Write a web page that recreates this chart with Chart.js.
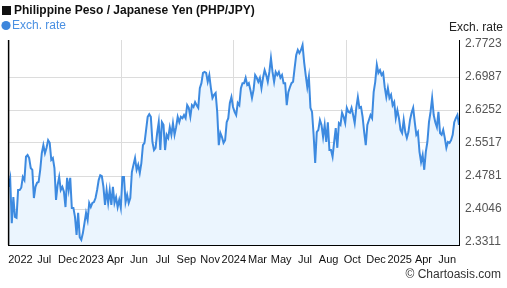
<!DOCTYPE html>
<html>
<head>
<meta charset="utf-8">
<title>PHP/JPY</title>
<script src="https://cdn.jsdelivr.net/npm/chart.js@4/dist/chart.umd.min.js"></script>
<style>
    html, body { margin: 0; padding: 0; background: #fff; }
    #wrap { width: 507px; height: 288px; position: relative; }
</style>
</head>
<body>
<div id="wrap"><canvas id="rateChart" width="507" height="288"></canvas></div>
<script>
// Chart data
const chartTitle = 'Philippine Peso / Japanese Yen (PHP/JPY)';
const seriesName = 'Exch. rate';
const axisTitle = 'Exch. rate';
const creditText = '\u00A9 Chartoasis.com';

const dateLabels = ['2022', 'Jul', 'Dec', '2023', 'Apr', 'Jun', 'Jul', 'Sep', 'Nov', '2024',
    'Mar', 'May', 'Jul', 'Aug', 'Oct', 'Dec', '2025', 'Apr', 'Jun'];

const rateTicks = [2.3311, 2.4046, 2.4781, 2.5517, 2.6252, 2.6987, 2.7723];

const rates = [
    2.454, 2.472, 2.373, 2.431, 2.387, 2.385, 2.447, 2.447, 2.452, 2.476,
    2.469, 2.521, 2.525, 2.518, 2.496, 2.492, 2.429, 2.454, 2.463, 2.465,
    2.492, 2.529, 2.547, 2.529, 2.541, 2.558, 2.552, 2.514, 2.518, 2.496,
    2.425, 2.458, 2.476, 2.447, 2.454, 2.443, 2.409, 2.474, 2.447, 2.474,
    2.407, 2.407, 2.387, 2.347, 2.396, 2.342, 2.336, 2.351, 2.373, 2.396,
    2.380, 2.418, 2.409, 2.418, 2.420, 2.429, 2.447, 2.469, 2.480, 2.478,
    2.454, 2.414, 2.447, 2.418, 2.447, 2.414, 2.454, 2.418, 2.431, 2.409,
    2.425, 2.407, 2.476,
    2.476, 2.420, 2.436, 2.418, 2.429, 2.487, 2.503, 2.518, 2.492, 2.503,
    2.485, 2.507, 2.547, 2.552, 2.581, 2.610, 2.616, 2.610, 2.554, 2.536,
    2.541, 2.574, 2.598, 2.536, 2.598, 2.592, 2.536, 2.570, 2.563, 2.587,
    2.570, 2.596, 2.570, 2.587, 2.610, 2.598, 2.610, 2.607, 2.614, 2.607,
    2.636, 2.630, 2.610, 2.636, 2.632, 2.643, 2.636, 2.630, 2.674, 2.685,
    2.708, 2.710, 2.708, 2.688, 2.703, 2.674, 2.652, 2.659, 2.663, 2.621,
    2.547, 2.574, 2.565, 2.552, 2.558, 2.598, 2.607, 2.641, 2.654, 2.632,
    2.621,
    2.614, 2.641, 2.636, 2.674, 2.685, 2.685, 2.697, 2.681, 2.685, 2.670,
    2.652, 2.670, 2.703, 2.697, 2.688, 2.697, 2.674, 2.697, 2.714, 2.703,
    2.688, 2.710, 2.741, 2.710, 2.688, 2.710, 2.703, 2.710, 2.697, 2.703,
    2.685, 2.685, 2.636, 2.665, 2.676, 2.685, 2.688, 2.719, 2.748, 2.759,
    2.752, 2.759, 2.770, 2.732, 2.703, 2.676, 2.699, 2.630, 2.621, 2.570,
    2.507, 2.576, 2.581, 2.603, 2.592, 2.565, 2.592, 2.554, 2.598, 2.536,
    2.536, 2.521, 2.554, 2.585, 2.541, 2.596, 2.592, 2.619, 2.610, 2.596,
    2.630, 2.621,
    2.619, 2.630, 2.614, 2.596, 2.630, 2.654, 2.630, 2.632, 2.610, 2.576,
    2.547, 2.592, 2.603, 2.614, 2.607, 2.665, 2.688, 2.726, 2.708, 2.714,
    2.703, 2.708, 2.676, 2.654, 2.674, 2.652, 2.659, 2.636, 2.643, 2.607,
    2.625, 2.607, 2.581, 2.574, 2.603, 2.576, 2.563, 2.576, 2.603, 2.619,
    2.630, 2.598, 2.570, 2.576, 2.532, 2.509, 2.525, 2.492, 2.532, 2.554,
    2.598, 2.621, 2.652, 2.614, 2.598, 2.587, 2.621, 2.574, 2.570, 2.581,
    2.563, 2.541, 2.554, 2.552, 2.558, 2.570, 2.598, 2.607, 2.614, 2.592
];

const lineColor = '#3d8ae0';
const fillColor = '#ebf5fe';
const gridColor = '#dcdcdc';
const fontFamily = '"Liberation Sans", Arial, sans-serif';

// Title, legend, axis caption, credit and the left frame line
const headerText = {
    id: 'headerText',
    afterDraw(chart) {
        const ctx = chart.ctx;
        const area = chart.chartArea;
        ctx.save();

        ctx.strokeStyle = '#000';
        ctx.lineWidth = 1.5;
        ctx.beginPath();
        ctx.moveTo(area.left, area.top);
        ctx.lineTo(area.left, area.bottom);
        ctx.stroke();

        ctx.textBaseline = 'middle';
        ctx.fillStyle = '#111';
        ctx.fillRect(2, 6, 9, 9);
        ctx.font = 'bold 12px ' + fontFamily;
        ctx.fillText(chartTitle, 14, 11);

        ctx.fillStyle = '#3d86dc';
        ctx.beginPath();
        ctx.arc(6, 25.5, 4.6, 0, Math.PI * 2);
        ctx.fill();
        ctx.font = '12px ' + fontFamily;
        ctx.fillStyle = '#4a90e2';
        ctx.fillText(seriesName, 12, 25.5);

        ctx.textAlign = 'right';
        ctx.fillStyle = '#222';
        ctx.fillText(axisTitle, 503, 28);
        ctx.fillStyle = '#333';
        ctx.fillText(creditText, 501, 275);
        ctx.restore();
    }
};

const lastIndex = rates.length - 1;
const ctx = document.getElementById('rateChart').getContext('2d');
const rateChart = new Chart(ctx, {
    type: 'line',
    data: {
        datasets: [{
            label: seriesName,
            data: rates.map((v, i) => ({ x: i, y: v })),
            borderColor: lineColor,
            backgroundColor: fillColor,
            borderWidth: 2,
            pointRadius: 0,
            tension: 0,
            fill: 'start'
        }]
    },
    options: {
        responsive: false,
        animation: false,
        layout: { padding: { left: 1, top: 40, right: 0, bottom: 0 } },
        plugins: {
            legend: { display: false },
            title: { display: false },
            tooltip: { enabled: false }
        },
        scales: {
            x: {
                type: 'linear',
                position: 'bottom',
                weight: 0,
                min: 0,
                max: lastIndex,
                afterBuildTicks: scale => {
                    scale.ticks = [0, 1, 2, 3, 4].map(k => ({ value: lastIndex * k / 4 }));
                },
                afterFit: scale => { scale.height = 0; },
                ticks: { display: false },
                grid: { color: gridColor, drawTicks: false },
                border: { display: true, color: '#000', width: 1 }
            },
            x2: {
                type: 'category',
                position: 'bottom',
                weight: 1,
                labels: dateLabels,
                offset: true,
                afterFit: scale => { scale.height = 43; },
                grid: { display: false, drawTicks: false },
                border: { display: false },
                ticks: {
                    autoSkip: false,
                    maxRotation: 0,
                    padding: 8,
                    color: '#111',
                    font: { family: fontFamily, size: 11 }
                }
            },
            y: {
                type: 'linear',
                position: 'right',
                min: 2.3244,
                max: 2.7812,
                afterBuildTicks: scale => {
                    scale.ticks = rateTicks.map(v => ({ value: v }));
                },
                afterFit: scale => { scale.width = 48; },
                grid: {
                    drawTicks: false,
                    color: c => (c.tick && c.tick.value === rateTicks[rateTicks.length - 1]) ? 'rgba(0,0,0,0)' : gridColor
                },
                border: { display: true, color: '#000', width: 1 },
                ticks: {
                    padding: 6,
                    color: '#555',
                    font: { family: fontFamily, size: 12 },
                    callback: v => v.toFixed(4)
                }
            }
        }
    },
    plugins: [headerText]
});
</script>
</body>
</html>
